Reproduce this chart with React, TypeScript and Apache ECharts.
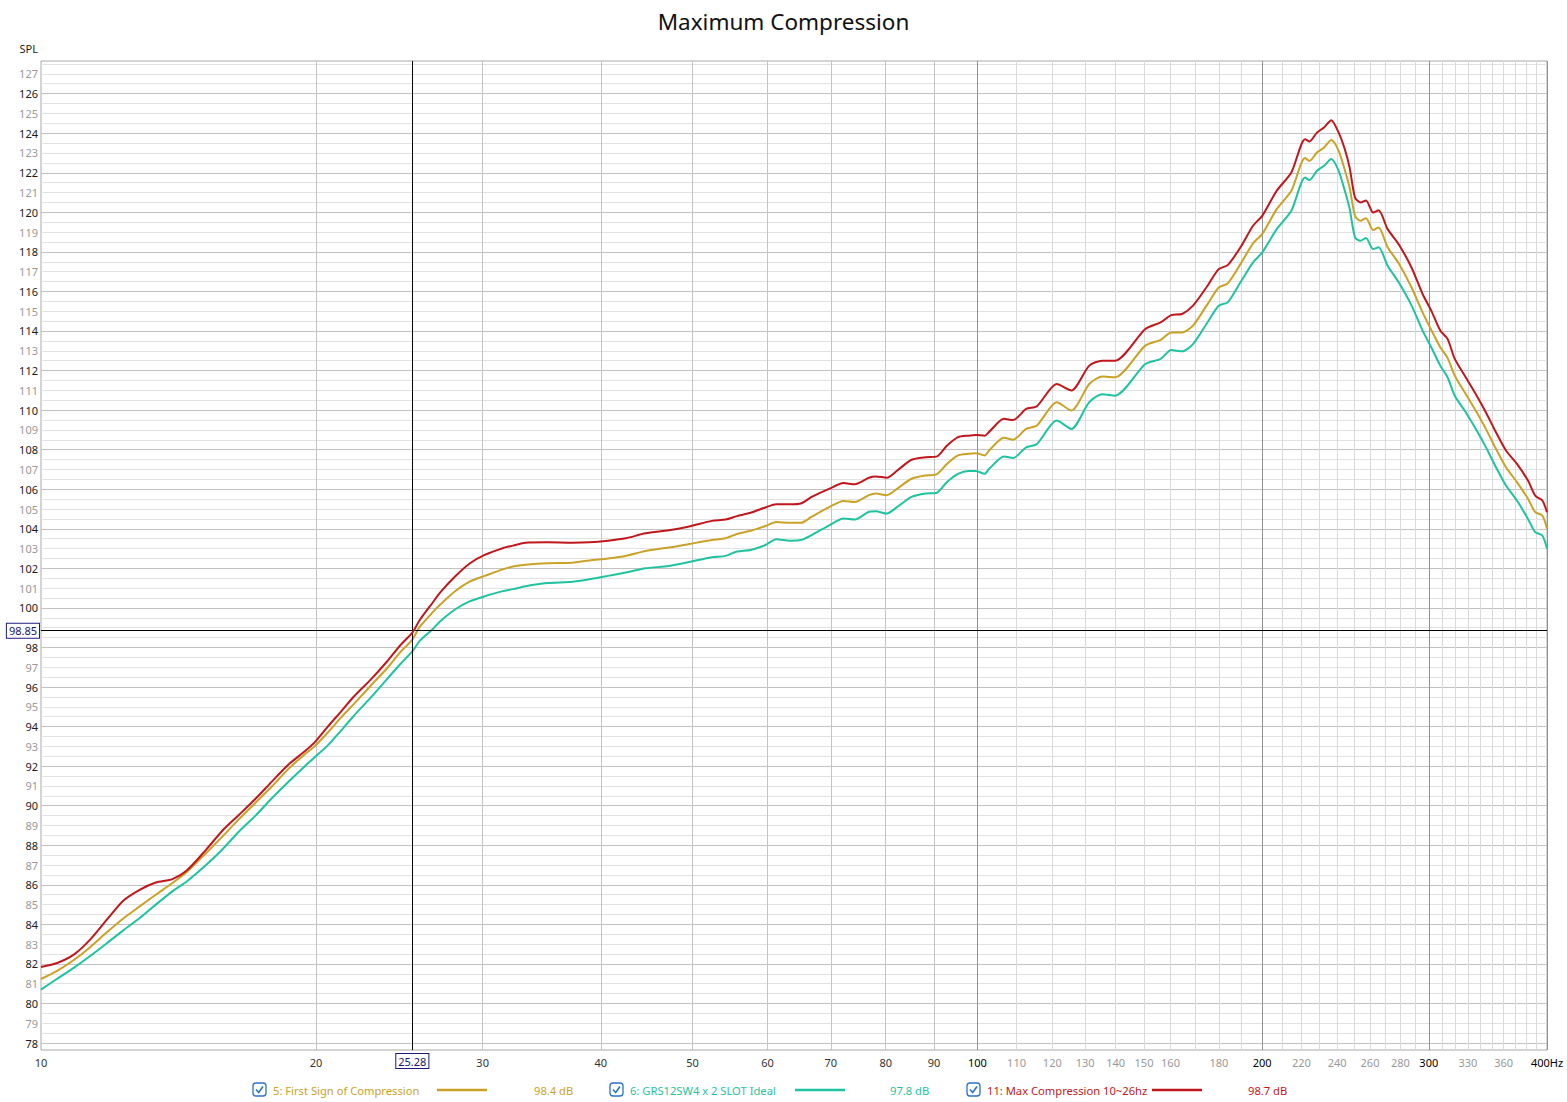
import { useEffect, useRef } from 'react';
import * as echarts from 'echarts';

const FONT = '"Noto Sans", "DejaVu Sans", sans-serif';

// frequency points (Hz), shared by the three measurements
const freqs = [
  10.24, 10.65, 11.09, 11.54, 12.02, 12.51, 13.02, 13.54, 14.1, 14.6, 15.3, 15.93, 16.58, 17.26, 17.96,
  18.69, 19.46, 19.93, 20.58, 21.25, 21.93, 22.83, 23.77, 24.54, 25.28, 25.75, 26.59,
  27.06, 28.05, 29.09, 30.15, 31.5, 32.3, 33.3, 35.1, 37.3, 38.9, 40.7, 42.5, 44.6, 47.2, 49.6,
  52.4, 54.2, 55.7, 57.6, 59.7, 61.3, 63.4, 65.1, 66.8, 69.8, 72.2, 74.2, 76.8, 78.1, 80.2,
  82.3, 85.2, 88.2, 90.5, 92.9, 95.4, 97.9, 99.6, 101.8,
  102.9, 106.7, 109.1, 112.6, 115.6, 121.3, 125.7, 131.3, 135.5, 139.8, 150.5, 156.2, 160.3, 164.6,
  169, 175.1, 179.9, 183.9, 189.7, 195.6, 200, 207.2, 214.7, 222, 224.4, 228.5, 232.5, 236.6,
  240.9, 244.5, 247.4, 250.7, 254, 257.5, 262, 265.5, 271.4, 278.8, 287.7, 295.5, 301.8, 308.5,
  314, 319.6, 328.2, 337.1, 344.7, 352.5, 362, 371.8, 381.9, 388.7, 395.5, 400,
];

// 5: First Sign of Compression
const firstSign = [
  81.24, 81.65, 82.2, 82.85, 83.6, 84.3, 84.91, 85.5, 86.09, 86.65, 87.6, 88.45, 89.32, 90.15, 90.97,
  91.85, 92.6, 93.0, 93.7, 94.45, 95.15, 96.05, 96.95, 97.75, 98.4, 99.05, 99.8,
  100.17, 100.84, 101.34, 101.62, 101.95, 102.09, 102.18, 102.26, 102.28, 102.4, 102.5, 102.63, 102.88, 103.05, 103.23,
  103.43, 103.52, 103.74, 103.9, 104.14, 104.34, 104.3, 104.3, 104.61, 105.11, 105.41, 105.36, 105.7, 105.78, 105.7,
  106.03, 106.53, 106.7, 106.75, 107.29, 107.71, 107.79, 107.82, 107.71,
  107.96, 108.6, 108.5, 109.05, 109.22, 110.4, 109.98, 111.32, 111.7, 111.66, 113.26, 113.55, 113.93, 113.93,
  114.27, 115.36, 116.2, 116.41, 117.38, 118.43, 118.9, 120.16, 121.09, 122.74, 122.6, 123.02, 123.28, 123.65,
  123.11, 122.15, 121.25, 119.82, 119.57, 119.7, 119.1, 119.23, 118.23, 117.42, 116.2, 114.94, 114.05, 113.18,
  112.64, 111.74, 110.82, 109.89, 109.05, 108.13, 107.11, 106.36, 105.52, 104.84, 104.67, 104.0,
];

// 6: GRS12SW4 x 2 SLOT Ideal
const grsIdeal = [
  80.7, 81.25, 81.8, 82.4, 83.05, 83.7, 84.32, 85.0, 85.67, 86.17, 87.0, 87.8, 88.7, 89.5, 90.38,
  91.2, 92.0, 92.45, 93.05, 93.8, 94.55, 95.45, 96.4, 97.15, 97.8, 98.35, 98.95,
  99.33, 99.92, 100.34, 100.59, 100.85, 100.95, 101.1, 101.26, 101.32, 101.45, 101.62, 101.79, 102.0, 102.12, 102.32,
  102.56, 102.63, 102.85, 102.93, 103.18, 103.47, 103.4, 103.43, 103.68, 104.19, 104.52, 104.47, 104.86, 104.89, 104.77,
  105.11, 105.61, 105.78, 105.81, 106.37, 106.78, 106.92, 106.92, 106.78,
  107.03, 107.65, 107.58, 108.12, 108.29, 109.47, 109.05, 110.4, 110.8, 110.73, 112.33, 112.59, 113.04, 112.97,
  113.34, 114.44, 115.28, 115.45, 116.46, 117.47, 117.97, 119.15, 120.08, 121.76, 121.63, 122.1, 122.35, 122.69,
  122.1, 121.1, 120.2, 118.73, 118.56, 118.7, 118.14, 118.23, 117.3, 116.46, 115.28, 114.02, 113.18, 112.25,
  111.66, 110.73, 109.89, 108.97, 108.13, 107.2, 106.19, 105.43, 104.5, 103.83, 103.66, 102.99,
];

// 11: Max Compression 10~26hz
const maxComp = [
  81.85, 82.05, 82.47, 83.23, 84.24, 85.2, 85.75, 86.12, 86.29, 86.72, 87.77, 88.75, 89.54, 90.35, 91.22,
  92.07, 92.75, 93.2, 94.0, 94.76, 95.52, 96.36, 97.29, 98.1, 98.75, 99.4, 100.3,
  100.79, 101.59, 102.26, 102.68, 103.02, 103.15, 103.3, 103.32, 103.3, 103.32, 103.4, 103.52, 103.77, 103.93, 104.12,
  104.4, 104.47, 104.64, 104.81, 105.08, 105.24, 105.24, 105.28, 105.61, 106.03, 106.31, 106.25, 106.58, 106.65, 106.58,
  106.95, 107.49, 107.62, 107.65, 108.21, 108.63, 108.71, 108.74, 108.71,
  108.9, 109.56, 109.5, 110.06, 110.2, 111.32, 110.99, 112.25, 112.5, 112.5, 114.1, 114.44, 114.8, 114.86,
  115.28, 116.29, 117.13, 117.33, 118.23, 119.32, 119.82, 121.09, 122.01, 123.7, 123.58, 124.03, 124.29, 124.66,
  124.03, 123.2, 122.27, 120.75, 120.5, 120.6, 119.99, 120.1, 119.15, 118.39, 117.2, 115.87, 115.03, 114.02,
  113.6, 112.59, 111.66, 110.73, 109.89, 108.97, 107.96, 107.28, 106.44, 105.68, 105.43, 104.84,
];

const seriesNames = ['5: First Sign of Compression', '6: GRS12SW4 x 2 SLOT Ideal', '11: Max Compression 10~26hz'];
const seriesColors = ['#c9a227', '#1fc39f', '#c0171c'];
const cursorValues = ['98.4 dB', '97.8 dB', '98.7 dB'];

const cursorFreq = 25.28;
const cursorSpl = 98.85;

const xMin = 10.24;
const xMax = 400;
const yMin = 77.65;
const yMax = 127.65;

const xLabelValues = [
  10.24, 20, 30, 40, 50, 60, 70, 80, 90, 100, 110, 120, 130, 140, 150, 160, 180, 200, 220, 240, 260, 280,
  300, 330, 360, 400,
];

const xGridValues: number[] = [];
for (let f = 20; f <= 400; f += 10) xGridValues.push(f);
const yGridValues: number[] = [];
for (let v = 78; v <= 127.5; v += 0.5) yGridValues.push(v);
// 99 sits under the cursor box in the reference
const yLabelValues: number[] = [];
for (let v = 78; v <= 127; v += 1) if (v !== 99) yLabelValues.push(v);

const xGridColors = xGridValues.map((f) => (f % 100 === 0 ? '#909090' : f < 100 ? '#c4c4c4' : '#dadada'));
// starts at 78 (even): even dB darker, odd and half dB lighter
const yGridColors = ['#c2c2c2', '#e2e2e2', '#e2e2e2', '#e2e2e2'];

const legendX = [253, 610, 967];
const legendTextX = [273, 630, 987];
const legendLineX = [437, 795, 1152];
const legendValueX = [534, 890, 1248];
const legendY = 1090;
const legendFont = `11.2px ${FONT}`;

function buildLegend() {
  const out: any[] = [];
  for (let i = 0; i < 3; i++) {
    const bx = legendX[i];
    out.push({
      type: 'rect',
      shape: { x: bx, y: legendY - 7, width: 13, height: 13, r: 3 },
      style: { fill: '#fff', stroke: '#2a73c9', lineWidth: 1.3 },
    });
    out.push({
      type: 'polyline',
      shape: { points: [[bx + 3, legendY - 0.5], [bx + 5.7, legendY + 2.5], [bx + 10, legendY - 3.5]] },
      style: { fill: 'none', stroke: '#2a73c9', lineWidth: 1.6 },
    });
    out.push({
      type: 'text',
      x: legendTextX[i],
      y: legendY,
      style: { text: seriesNames[i], fill: seriesColors[i], font: legendFont, verticalAlign: 'middle' },
    });
    out.push({
      type: 'line',
      shape: { x1: legendLineX[i], y1: legendY, x2: legendLineX[i] + 50, y2: legendY },
      style: { stroke: seriesColors[i], lineWidth: 2.5 },
    });
    out.push({
      type: 'text',
      x: legendValueX[i],
      y: legendY,
      style: { text: cursorValues[i], fill: seriesColors[i], font: legendFont, verticalAlign: 'middle' },
    });
  }
  return out;
}

export default function App() {
  const chartRef = useRef<HTMLDivElement | null>(null);

  useEffect(() => {
    if (!chartRef.current) return;
    const chart = echarts.init(chartRef.current, null, { renderer: 'svg' });
    const allSpl = [firstSign, grsIdeal, maxComp];

    chart.setOption({
      animation: false,
      backgroundColor: '#ffffff',
      textStyle: { fontFamily: FONT },
      title: {
        text: 'Maximum Compression',
        left: 'center',
        top: 5,
        textStyle: { fontSize: 22.5, fontWeight: 'normal', color: '#111', fontFamily: FONT },
      },
      grid: {
        left: 41,
        right: 20,
        top: 61,
        bottom: 52,
        show: true,
        borderColor: '#a8a8a8',
        borderWidth: 1,
        backgroundColor: '#fff',
      },
      xAxis: {
        type: 'log',
        logBase: 10,
        min: xMin,
        max: xMax,
        axisLine: { show: false },
        axisTick: { show: false, customValues: xGridValues },
        splitLine: { show: true, lineStyle: { color: xGridColors, width: 1 } },
        axisLabel: {
          customValues: xLabelValues,
          margin: 7,
          fontSize: 11,
          fontFamily: FONT,
          formatter: (v: number) => (v < 11 ? '10' : v >= 400 ? '400Hz' : String(Math.round(v))),
          color: (v: any) => {
            const f = Math.round(Number(v));
            if (f % 100 === 0) return '#000';
            if (f < 100) return '#333';
            return '#999';
          },
        },
      },
      yAxis: {
        type: 'value',
        min: yMin,
        max: yMax,
        name: 'SPL',
        nameLocation: 'end',
        nameGap: 7,
        nameTextStyle: { color: '#222', fontSize: 11, align: 'right', fontFamily: FONT, padding: [0, 3, 0, 0] },
        axisLine: { show: false },
        axisTick: { show: false, customValues: yGridValues },
        splitLine: { show: true, lineStyle: { color: yGridColors, width: 1 } },
        axisLabel: {
          customValues: yLabelValues,
          margin: 3,
          fontSize: 11,
          fontFamily: FONT,
          formatter: (v: number) => String(Math.round(v)),
          color: (v: any) => (Math.round(Number(v)) % 2 === 0 ? '#1a1a1a' : '#999'),
        },
      },
      series: allSpl.map((spl, i) => ({
        name: seriesNames[i],
        type: 'line',
        data: freqs.map((f, k) => [f, spl[k]]),
        showSymbol: false,
        smooth: 0.25,
        lineStyle: { color: seriesColors[i], width: 2 },
        itemStyle: { color: seriesColors[i] },
        z: 3 + i,
        markLine:
          i === 2
            ? {
                silent: true,
                symbol: ['none', 'none'],
                precision: 2,
                lineStyle: { color: '#000', width: 1, type: 'solid' },
                label: {
                  show: true,
                  position: 'start',
                  color: '#141470',
                  backgroundColor: '#fff',
                  borderColor: '#1c1c80',
                  borderWidth: 1,
                  padding: [2, 2, 1, 2],
                  fontSize: 11,
                  fontFamily: FONT,
                  formatter: (p: any) => Number(p.value).toFixed(2),
                },
                emphasis: { disabled: true },
                data: [
                  { xAxis: cursorFreq, label: { distance: 4 } },
                  { yAxis: cursorSpl, label: { distance: 2 } },
                ],
              }
            : undefined,
      })),
      graphic: buildLegend(),
    });

    return () => {
      chart.dispose();
    };
  }, []);

  return (
    <div
      ref={chartRef}
      style={{ position: 'fixed', left: 0, top: 0, width: '1567px', height: '1102px', background: '#fff' }}
    />
  );
}
